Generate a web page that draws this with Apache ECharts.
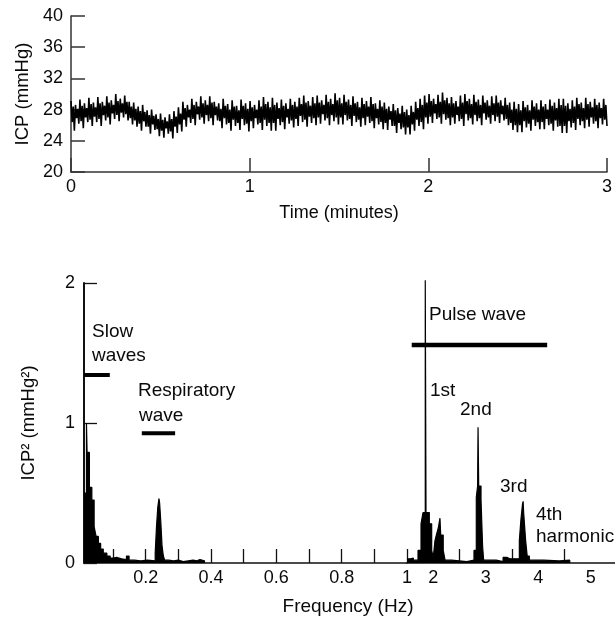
<!DOCTYPE html>
<html><head><meta charset="utf-8">
<script src="https://cdn.jsdelivr.net/npm/echarts@6/dist/echarts.min.js"></script>
<style>html,body{margin:0;padding:0;background:#fff}#c{width:615px;height:619px}</style>
</head><body><div id="c"></div>
<script>
// ---- Top panel: ICP trace, per 1.5 s bin: upper spike, lower spike, and the solid core band ----
const timeTicks = [0, 1, 2, 3];
const icpTicks = [20, 24, 28, 32, 36, 40];
const icpHighs = [29.1,28.6,29.3,28.8,29.5, 28.9,29.6,29.0,29.7,29.2, 30.0,29.4,29.8,29.0,28.9, 28.4,28.6,27.9,28.0,27.4,
  27.5,27.0,27.4,27.8,28.3, 29.0,28.6,29.4,29.0,29.7, 29.2,29.7,29.0,28.8,29.4, 28.7,29.2,28.5,29.3,28.8,
  29.1,28.6,29.2,29.6,29.0, 29.5,28.9,29.3,28.8,29.4, 29.0,29.5,29.8,29.1,29.6, 29.8,29.2,29.9,29.4,30.1,
  29.5,29.9,29.3,29.7,29.0, 29.5,29.1,29.6,28.8,29.2, 28.9,28.4,28.7,28.2,28.5, 28.0,28.5,29.0,29.4,29.8,
  30.0,29.4,29.9,30.2,29.5, 29.6,29.1,29.8,30.0,29.4, 29.9,29.3,29.8,29.2,29.7, 29.8,29.2,29.5,28.9,29.0,
  28.7,29.1,28.6,29.2,28.8, 29.2,28.7,29.3,28.9,29.4, 29.4,28.8,29.2,29.5,28.9, 29.5,29.0,29.4,28.9,29.4];
const icpCoreHigh = [28.4,28.1,28.5,28.2,28.7, 28.3,28.8,28.5,28.9,28.6, 29.1,28.8,29.0,28.4,28.1, 27.8,27.7,27.3,27.2,26.8,
  26.7,26.5,26.8,27.1,27.5, 28.2,28.0,28.6,28.4,28.8, 28.6,28.9,28.4,28.1,28.5, 28.0,28.4,27.9,28.5,28.1,
  28.3,28.0,28.4,28.7,28.3, 28.6,28.2,28.5,28.1,28.6, 28.4,28.7,28.9,28.5,28.8, 28.9,28.6,29.0,28.7,29.2,
  28.8,29.0,28.6,28.8,28.3, 28.7,28.4,28.7,28.1,28.4, 28.1,27.8,27.9,27.5,27.7, 27.3,27.7,28.2,28.6,28.9,
  29.1,28.7,29.0,29.2,28.8, 28.8,28.4,28.9,29.1,28.7, 29.0,28.6,28.9,28.5,28.8, 28.9,28.5,28.6,28.0,28.1,
  27.9,28.3,27.9,28.4,28.0, 28.4,28.0,28.5,28.2,28.6, 28.5,28.1,28.4,28.7,28.2, 28.7,28.3,28.6,28.2,28.6];
const icpCoreLow = [26.4,26.9,26.5,27.0,26.7, 27.1,26.8,27.3,27.0,27.5, 27.3,27.6,27.4,26.9,26.6, 26.2,26.5,25.8,26.1,25.5,
  25.3,25.6,25.2,25.8,26.1, 26.7,27.0,26.8,27.4,27.0, 27.3,26.9,27.3,26.5,26.9, 26.3,26.7,26.3,26.8,26.2,
  26.5,26.9,26.3,26.7,26.3, 26.3,26.8,26.4,27.0,26.6, 26.8,27.2,26.7,27.1,26.9, 27.0,27.4,26.9,27.3,27.0,
  27.0,27.3,26.8,27.2,26.7, 26.9,27.1,26.5,26.9,26.4, 26.3,26.7,25.9,26.3,25.7, 25.7,26.1,26.7,26.4,27.0,
  27.1,27.5,27.0,27.4,26.9, 27.0,27.3,26.8,27.4,26.9, 27.3,26.9,27.5,27.0,27.3, 27.1,27.4,26.8,26.3,26.0,
  26.0,26.5,26.2,26.7,26.4, 26.4,26.8,26.2,26.6,25.9, 25.9,26.5,26.3,26.8,26.5, 26.7,27.0,26.5,26.9,26.7];
const icpLows = [25.3,26.2,25.6,26.4,25.9, 26.4,25.9,26.6,26.1,26.8, 26.5,27.0,26.6,26.1,25.8, 25.3,25.8,24.9,25.4,24.6,
  24.4,24.9,24.3,25.0,25.2, 25.8,26.3,26.0,26.7,26.2, 26.5,26.0,26.6,25.6,26.1, 25.3,25.9,25.4,26.0,25.2,
  25.6,26.1,25.4,25.9,25.3, 25.3,26.0,25.5,26.2,25.7, 25.9,26.4,25.8,26.3,26.0, 26.2,26.6,26.0,26.5,26.1,
  26.1,26.6,25.9,26.4,25.8, 26.0,26.3,25.6,26.1,25.5, 25.4,25.9,25.0,25.5,24.8, 24.8,25.3,25.9,25.5,26.2,
  26.3,26.8,26.2,26.7,26.0, 26.2,26.5,25.9,26.6,26.1, 26.5,26.0,26.7,26.2,26.5, 26.3,26.6,26.0,25.4,25.1,
  25.1,25.7,25.3,25.9,25.5, 25.5,26.0,25.3,25.8,25.0, 25.0,25.7,25.4,26.0,25.6, 25.8,26.2,25.6,26.1,25.9];
const traceMinutes = 3;

// ---- Bottom panel: power spectrum (broken frequency axis) ----
const lowFreq = [0.011,0.0185,0.0205,0.0275,0.035,0.042,0.048,0.055,0.062,0.070,0.081,0.091,0.101,0.111,0.126,0.141,0.149,0.165,0.185,0.205,
  0.229,0.233,0.237,0.2405,0.2425,0.246,0.250,0.254,0.258,0.27,0.285,0.30,0.315,0.33,0.345,0.357,0.366,0.372,0.38];
const lowPower = [0.50,1.00,0.79,0.54,0.45,0.26,0.19,0.14,0.10,0.07,0.05,0.035,0.04,0.03,0.025,0.05,0.02,0.015,0.02,0.015,
  0.07,0.26,0.40,0.46,0.43,0.30,0.12,0.05,0.02,0.015,0.02,0.01,0.015,0.02,0.015,0.025,0.035,0.015,0];
const highFreq = [1.50,1.56,1.62,1.71,1.767,1.805,1.848,1.862,1.925,1.97,2.0,2.033,2.066,2.096,2.128,2.142,2.19,2.225,2.35,2.64,
  2.776,2.82,2.845,2.853,2.866,2.91,2.94,2.96,3.2,3.33,3.40,3.46,3.55,3.64,3.67,3.70,3.712,3.722,3.76,3.79,3.83,4.1,4.4,4.6];
const highPower = [0.03,0.035,0.02,0.09,0.28,0.36,2.02,0.36,0.28,0.09,0.04,0.16,0.21,0.25,0.32,0.20,0.09,0.02,0.01,0.02,
  0.09,0.47,0.55,0.97,0.55,0.45,0.12,0.02,0.01,0.04,0.03,0.03,0.03,0.16,0.31,0.42,0.44,0.36,0.16,0.05,0.02,0.015,0.02,0];
const lowTicks = [0.1,0.2,0.3,0.4,0.5,0.6,0.7,0.8,0.9,1.0];
const lowLabels = [0.2,0.4,0.6,0.8,1];
const highTicks = [2.5,3.5,4.5];
const highLabels = [2,3,4,5];
const powerTicks = [0, 1, 2];
// frequency bands marked above the spectrum: [from Hz, to Hz, level]
const slowBand = [0.011, 0.09, 1.343];
const respBand = [0.188, 0.29, 0.926];
const pulseBand = [1.59, 4.17, 1.557];

const FONT = '"Liberation Sans", Arial, sans-serif';
const INK = '#0a0a0a';

const nPts = icpHighs.length * 4;
const tStep = traceMinutes / (nPts - 1);
const trace = [];
icpHighs.forEach((h, i) => {
  trace.push([(4 * i) * tStep, h]);
  trace.push([(4 * i + 1) * tStep, icpCoreLow[i]]);
  trace.push([(4 * i + 2) * tStep, icpCoreHigh[i]]);
  trace.push([(4 * i + 3) * tStep, icpLows[i]]);
});
const lowSpec = lowFreq.map((f, i) => [f, lowPower[i]]);
const highSpec = highFreq.map((f, i) => [f, highPower[i]]);

function axisCommon(color, w) {
  return {
    axisLine: {show: true, onZero: false, lineStyle: {color: color, width: w}},
    axisTick: {show: true, inside: true, length: 14, lineStyle: {color: color, width: w}},
    splitLine: {show: false}
  };
}

const chart = echarts.init(document.getElementById('c'), null, {renderer: 'canvas'});
const txt = (t, x, y, size) => ({type: 'text', x: x, y: y, silent: true,
  style: {text: t, fill: INK, fontSize: size || 19, fontFamily: FONT, align: 'left', verticalAlign: 'middle'}});

chart.setOption({
  animation: false,
  backgroundColor: '#fff',
  grid: [
    {left: 71, top: 16, width: 538, height: 156},
    {left: 84, top: 283, width: 323, height: 280},
    {left: 407, top: 283, width: 208, height: 280}
  ],
  xAxis: [
    Object.assign(axisCommon('#333', 1.5), {type: 'value', gridIndex: 0, min: timeTicks[0], max: timeTicks[timeTicks.length - 1], interval: 1,
      axisLabel: {fontSize: 18, margin: 6, color: INK, fontFamily: FONT},
      name: 'Time (minutes)', nameLocation: 'middle', nameGap: 32,
      nameTextStyle: {fontSize: 18, color: INK, fontFamily: FONT}}),
    Object.assign(axisCommon('#111', 1.5), {type: 'value', gridIndex: 1, min: 0.011, max: 1.0,
      axisTick: {show: true, inside: true, length: 14, customValues: lowTicks, lineStyle: {color: '#111', width: 1.3}},
      axisLabel: {customValues: lowLabels, fontSize: 18, margin: 6, color: INK, fontFamily: FONT}}),
    Object.assign(axisCommon('#111', 1.5), {type: 'value', gridIndex: 2, min: 1.5, max: 5.462,
      axisTick: {show: true, inside: true, length: 14, customValues: highTicks, lineStyle: {color: '#111', width: 1.3}},
      axisLabel: {customValues: highLabels, fontSize: 18, margin: 6, color: INK, fontFamily: FONT}})
  ],
  yAxis: [
    Object.assign(axisCommon('#333', 1.5), {type: 'value', gridIndex: 0, min: icpTicks[0], max: icpTicks[icpTicks.length - 1], interval: 4,
      axisLabel: {fontSize: 18, margin: 8, color: INK, fontFamily: FONT},
      name: 'ICP (mmHg)', nameLocation: 'middle', nameGap: 38,
      nameTextStyle: {fontSize: 18.5, color: INK, fontFamily: FONT}}),
    Object.assign(axisCommon('#111', 2), {type: 'value', gridIndex: 1, min: powerTicks[0], max: powerTicks[2], interval: 1,
      axisTick: {show: true, inside: true, length: 13, lineStyle: {color: '#111', width: 1.3}},
      axisLabel: {fontSize: 18, margin: 9, color: INK, fontFamily: FONT},
      name: 'ICP\u00b2 (mmHg\u00b2)', nameLocation: 'middle', nameGap: 46,
      nameTextStyle: {fontSize: 18.5, color: INK, fontFamily: FONT}}),
    {type: 'value', gridIndex: 2, min: 0, max: 2, show: false, splitLine: {show: false}}
  ],
  series: [
    {type: 'line', xAxisIndex: 0, yAxisIndex: 0, data: trace, showSymbol: false, symbol: 'none', silent: true,
      lineStyle: {color: '#000', width: 1.6}},
    {type: 'line', xAxisIndex: 1, yAxisIndex: 1, data: lowSpec, step: 'end', symbol: 'none', silent: true, clip: false,
      lineStyle: {color: '#000', width: 1.2}, areaStyle: {color: '#000', opacity: 1}},
    {type: 'line', xAxisIndex: 2, yAxisIndex: 2, data: highSpec, step: 'end', symbol: 'none', silent: true, clip: false,
      lineStyle: {color: '#000', width: 1.2}, areaStyle: {color: '#000', opacity: 1}},
    {type: 'line', xAxisIndex: 1, yAxisIndex: 1, data: [[slowBand[0], slowBand[2]], [slowBand[1], slowBand[2]]], symbol: 'none', silent: true,
      lineStyle: {color: '#000', width: 4}},
    {type: 'line', xAxisIndex: 1, yAxisIndex: 1, data: [[respBand[0], respBand[2]], [respBand[1], respBand[2]]], symbol: 'none', silent: true,
      lineStyle: {color: '#000', width: 4}},
    {type: 'line', xAxisIndex: 2, yAxisIndex: 2, data: [[pulseBand[0], pulseBand[2]], [pulseBand[1], pulseBand[2]]], symbol: 'none', silent: true,
      lineStyle: {color: '#000', width: 4.5}}
  ],
  graphic: [
    txt('Slow', 92, 332), txt('waves', 92, 356),
    txt('Respiratory', 138, 391), txt('wave', 139, 416),
    txt('Pulse wave', 429, 315),
    txt('1st', 430, 391), txt('2nd', 460, 410), txt('3rd', 500, 487),
    txt('4th', 536, 515), txt('harmonic', 536, 537),
    {type: 'text', x: 348, y: 607, silent: true,
      style: {text: 'Frequency (Hz)', fill: INK, fontSize: 19, fontFamily: FONT, align: 'center', verticalAlign: 'middle'}}
  ]
});
</script></body></html>
